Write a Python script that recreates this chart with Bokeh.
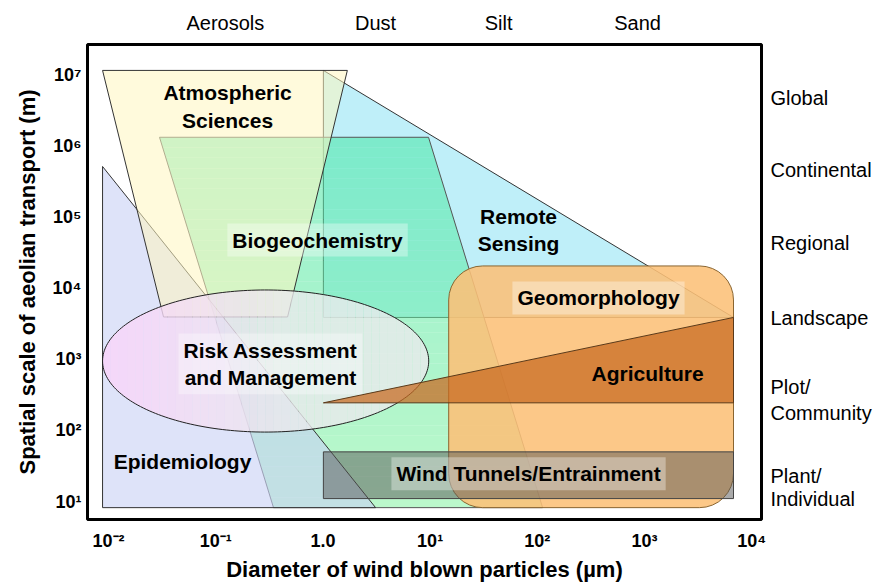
import numpy as np
from bokeh.plotting import figure
from bokeh.models import Range1d, LogAxis, FixedTicker
from bokeh.core.properties import value
from bokeh.embed import file_html
from bokeh.resources import INLINE

# ---------------- data ----------------
x_ticks = [0.01, 0.1, 1.0, 10.0, 100.0, 1000.0, 10000.0]
x_tick_labels = ["10⁻²", "10⁻¹", "1.0", "10¹", "10²", "10³", "10⁴"]
y_ticks = [10.0, 100.0, 1000.0, 10000.0, 100000.0, 1000000.0, 10000000.0]
y_tick_labels = ["10¹", "10²", "10³", "10⁴", "10⁵", "10⁶", "10⁷"]

size_classes = ["Aerosols", "Dust", "Silt", "Sand"]
size_class_pos = [0.123, 3.10, 43.5, 861.0]

scale_names = ["Global", "Continental", "Regional", "Landscape",
               "Plot/", "Community", "Plant/", "Individual"]
scale_pos = [4.72e6, 4.60e5, 4.35e4, 3.84e3, 412.0, 178.0, 23.2, 10.7]

# disciplines (diameter in µm, spatial scale in m)
epid_x = [0.0088, 3.1, 0.0088]
epid_y = [5.2e5, 8.2, 8.2]
atmos_x = [0.0088, 1.69, 0.468, 0.0326]
atmos_y = [1.17e7, 1.17e7, 3.96e3, 3.96e3]
# biogeochemistry trapezoid: top edge (left, right), bottom edge (left, right)
bio_top_x = [0.0299, 9.66]
bio_bottom_x = [0.346, 112.0]
bio_y = [1.34e6, 8.2]
remote_x = [1.01, 6760.0, 1.01]
remote_y = [1.17e7, 3.9e3, 3.9e3]
risk_x = [0.0088, 9.7]
risk_y = [95.0, 9500.0]
geo_x = [14.9, 6760.0]
geo_y = [8.2, 2.07e4]
agri_x = [1.01, 6760.0, 6760.0]
agri_y = [245.0, 3.9e3, 245.0]
wind_x = [1.01, 6760.0]
wind_y = [11.0, 50.0]

boxed_labels = ["Biogeochemistry", "Geomorphology",
                "Risk Assessment\nand Management", "Wind Tunnels/Entrainment"]
boxed_x = [0.891, 372.0, 0.324, 82.8]
boxed_y = [4.79e4, 7.33e3, 867.0, 24.7]
plain_labels = ["Atmospheric\nSciences", "Remote\nSensing", "Agriculture", "Epidemiology"]
plain_x = [0.129, 66.8, 1067.0, 0.049]
plain_y = [3.65e6, 6.6e4, 628.0, 36.5]

FONT = "Liberation Sans"


def hexc(c):
    return "#%02x%02x%02x" % tuple(int(round(v)) for v in c)


p = figure(width=880, height=584, x_axis_type="log", y_axis_type="log",
           x_range=Range1d(10 ** -2.196, 10 ** 4.091),
           y_range=Range1d(10 ** 0.747, 10 ** 7.433),
           output_backend="svg", toolbar_location=None,
           min_border_left=87, min_border_right=119,
           min_border_top=44, min_border_bottom=64)
p.grid.visible = False
p.outline_line_color = "black"
p.outline_line_width = 3
p.background_fill_color = "white"

# ---------------- shapes ----------------
p.patch(remote_x, remote_y, fill_color="#70dcf2", fill_alpha=0.45,
        line_color="#333333", line_width=1)

# biogeochemistry: vertical gradient (mint at top -> light green at bottom)
ltl, ltr = np.log10(bio_top_x)
lbl, lbr = np.log10(bio_bottom_x)
lyt, lyb = np.log10(bio_y)
nb = 36
fr = np.linspace(0, 1, nb + 1)
bio_top_col = np.array([80, 230, 172])
bio_bot_col = np.array([143, 243, 168])
bxs, bys, bcols = [], [], []
for i in range(nb):
    f0, f1 = fr[i], fr[i + 1]
    xl0, xr0 = ltl + (lbl - ltl) * f0, ltr + (lbr - ltr) * f0
    xl1, xr1 = ltl + (lbl - ltl) * f1, ltr + (lbr - ltr) * f1
    y0, y1 = lyt + (lyb - lyt) * f0, lyt + (lyb - lyt) * f1
    bxs.append(10 ** np.array([xl0, xr0, xr1, xl1]))
    bys.append(10 ** np.array([y0, y0, y1, y1]))
    fm = (f0 + f1) / 2
    bcols.append(hexc(bio_top_col * (1 - fm) + bio_bot_col * fm))
p.patches(bxs, bys, fill_color=bcols, fill_alpha=0.6, line_color=None)
p.patch([bio_top_x[0], bio_top_x[1], bio_bottom_x[1], bio_bottom_x[0]],
        [bio_y[0], bio_y[0], bio_y[1], bio_y[1]],
        fill_color=None, line_color="#555555", line_width=1)

p.patch(epid_x, epid_y, fill_color="#c8d0f5", fill_alpha=0.6,
        line_color="#333333", line_width=1)
p.patch(atmos_x, atmos_y, fill_color="#fff6c0", fill_alpha=0.55,
        line_color="#333333", line_width=1)

# risk assessment ellipse with a pink -> grey gradient
lx0, lx1 = np.log10(risk_x)
ly0, ly1 = np.log10(risk_y)
cx, cy = (lx0 + lx1) / 2, (ly0 + ly1) / 2
rx, ry = (lx1 - lx0) / 2, (ly1 - ly0) / 2
n = 40
edges = np.linspace(-1, 1, n + 1)
pink = np.array([250, 210, 250])
grey = np.array([234, 234, 236])
xs, ys, cols = [], [], []
for i in range(n):
    u = np.linspace(edges[i], edges[i + 1], 8)
    h = np.sqrt(np.clip(1 - u ** 2, 0, None))
    px = np.concatenate([u, u[::-1]])
    py = np.concatenate([h, -h[::-1]])
    xs.append(10 ** (cx + rx * px))
    ys.append(10 ** (cy + ry * py))
    t = min((i + 0.5) / n / 0.6, 1.0)
    cols.append(hexc(pink * (1 - t) + grey * t))
p.patches(xs, ys, fill_color=cols, fill_alpha=0.8, line_color=None)
th = np.linspace(0, 2 * np.pi, 240)
p.patch(10 ** (cx + rx * np.cos(th)), 10 ** (cy + ry * np.sin(th)),
        fill_color=None, line_color="#222222", line_width=1)

p.quad(left=geo_x[0], right=geo_x[1], bottom=geo_y[0], top=geo_y[1],
       fill_color="#fcc078", fill_alpha=0.88, line_color="#8a6530",
       line_width=1, border_radius=34)
p.patch(agri_x, agri_y, fill_color="#c8681e", fill_alpha=0.72,
        line_color="#5a3a1a", line_width=1)
p.quad(left=wind_x[0], right=wind_x[1], bottom=wind_y[0], top=wind_y[1],
       fill_color="#555555", fill_alpha=0.5, line_color="#444444", line_width=1)

# ---------------- labels ----------------
p.text(x=boxed_x, y=boxed_y, text=boxed_labels, text_font=value(FONT),
       text_font_style="bold", text_font_size="21px", text_align="center",
       text_baseline="middle", text_line_height=1.2, text_color="black",
       background_fill_color="white", background_fill_alpha=0.35,
       padding=5)
p.text(x=plain_x, y=plain_y, text=plain_labels, text_font=value(FONT),
       text_font_style="bold", text_font_size="21px", text_align="center",
       text_baseline="middle", text_line_height=1.2, text_color="black")

# ---------------- axes ----------------
def style_axis(ax, bold):
    ax.axis_line_color = None
    ax.major_tick_line_color = None
    ax.minor_tick_line_color = None
    ax.major_tick_out = 0
    ax.major_tick_in = 0
    ax.minor_tick_out = 0
    ax.minor_tick_in = 0
    ax.major_label_text_font = FONT
    ax.major_label_text_color = "black"
    ax.major_label_text_font_style = "bold" if bold else "normal"

xa = p.xaxis[0]
xa.ticker = FixedTicker(ticks=x_ticks, minor_ticks=[])
xa.major_label_overrides = dict(zip(x_ticks, x_tick_labels))
style_axis(xa, True)
xa.major_label_text_font_size = "18px"
xa.major_label_standoff = 11
xa.axis_label = "Diameter of wind blown particles (µm)"
xa.axis_label_text_font = FONT
xa.axis_label_text_font_style = "bold"
xa.axis_label_text_font_size = "22px"
xa.axis_label_text_color = "black"
xa.axis_label_standoff = 3

ya = p.yaxis[0]
ya.ticker = FixedTicker(ticks=y_ticks, minor_ticks=[])
ya.major_label_overrides = dict(zip(y_ticks, y_tick_labels))
style_axis(ya, True)
ya.major_label_text_font_size = "18px"
ya.major_label_standoff = 6
ya.axis_label = "Spatial scale of aeolian transport (m)"
ya.axis_label_text_font = FONT
ya.axis_label_text_font_style = "bold"
ya.axis_label_text_font_size = "22px"
ya.axis_label_text_color = "black"
ya.axis_label_standoff = 10

top = LogAxis(ticker=FixedTicker(ticks=size_class_pos, minor_ticks=[]),
              major_label_overrides=dict(zip(size_class_pos, size_classes)))
style_axis(top, False)
top.major_label_text_font_size = "20px"
top.major_label_standoff = 11
p.add_layout(top, "above")

right = LogAxis(ticker=FixedTicker(ticks=scale_pos, minor_ticks=[]),
                major_label_overrides=dict(zip(scale_pos, scale_names)))
style_axis(right, False)
right.major_label_text_font_size = "20px"
right.major_label_standoff = 9
p.add_layout(right, "right")

open("out.html", "w").write(file_html(p, INLINE))
